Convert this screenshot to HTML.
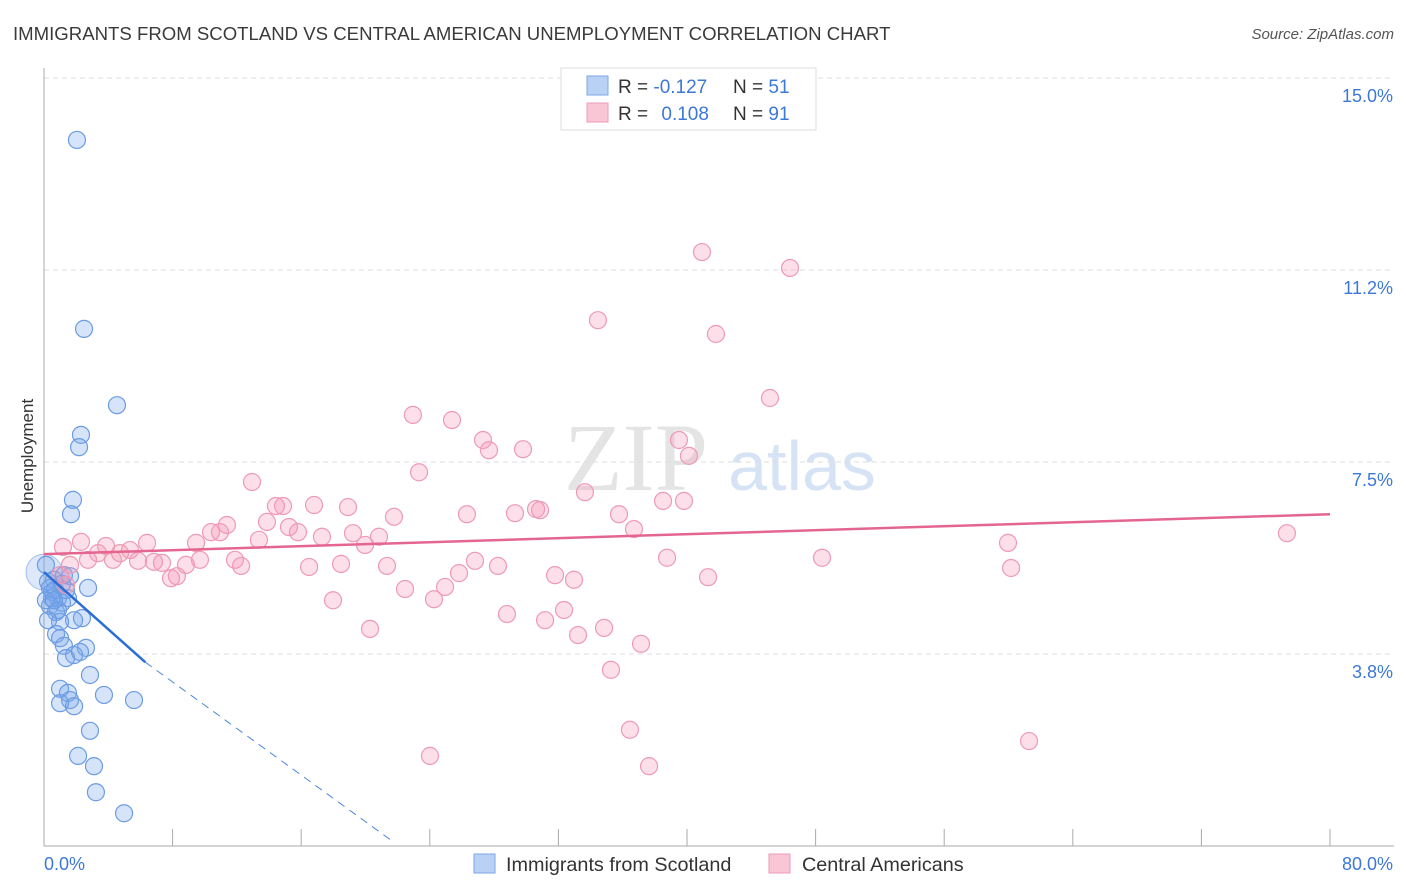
<!DOCTYPE html>
<html><head><meta charset="utf-8"><style>
body{margin:0;background:#fff;font-family:"Liberation Sans",sans-serif;}
svg{display:block}
</style></head><body>
<svg id="chart" width="1406" height="892" xmlns="http://www.w3.org/2000/svg">
<text x="13" y="40" font-size="18.6" fill="#3a3a3a">IMMIGRANTS FROM SCOTLAND VS CENTRAL AMERICAN UNEMPLOYMENT CORRELATION CHART</text>
<text x="1394" y="39" font-size="15" fill="#555" font-style="italic" text-anchor="end">Source: ZipAtlas.com</text>
<text transform="translate(33,456) rotate(-90)" font-size="17" fill="#333" text-anchor="middle">Unemployment</text>
<g>
<text x="636" y="490" font-size="96" fill="#e4e4e4" font-family="Liberation Serif,serif" text-anchor="middle">ZIP</text>
<text x="802" y="490" font-size="70" fill="#d6e3f5" text-anchor="middle">atlas</text>
</g>
<g id="grid"></g>
<g id="axes"></g>
<g id="blue"></g>
<g id="pink"></g>
<g id="trends"></g>
<g>
<rect x="561" y="68" width="255" height="62" fill="#fff" stroke="#ddd"/>
<rect x="587" y="76" width="21" height="19" fill="#b9d1f5" stroke="#7ea7e6"/>
<rect x="587" y="103" width="21" height="19" fill="#f9c6d6" stroke="#ee9ab5"/>
<text x="618" y="93" font-size="19" fill="#333">R = <tspan fill="#3c78d8">-0.127</tspan></text>
<text x="733" y="93" font-size="19" fill="#333">N = <tspan fill="#3c78d8">51</tspan></text>
<text x="618" y="120" font-size="19" fill="#333">R = <tspan fill="#3c78d8" dx="8">0.108</tspan></text>
<text x="733" y="120" font-size="19" fill="#333">N = <tspan fill="#3c78d8">91</tspan></text>
</g>
<g>
<rect x="474" y="854" width="21" height="19" fill="#b9d1f5" stroke="#7ea7e6"/>
<text x="506" y="871" font-size="19.8" fill="#333">Immigrants from Scotland</text>
<rect x="769" y="854" width="21" height="19" fill="#f9c6d6" stroke="#ee9ab5"/>
<text x="802" y="871" font-size="19.8" fill="#333">Central Americans</text>
</g>
</svg>
<script>
const yTicks=[3.75,7.5,11.25,15];
const yTickLabels=["3.8%","7.5%","11.2%","15.0%"];
const xTicks=[0,8,16,24,32,40,48,56,64,72,80];
const xEndLabels=["0.0%","80.0%"];
const blueX=[2.05,2.49,4.54,2.30,2.18,1.80,1.68,2.74,1.24,0.62,0.50,0.87,1.12,1.49,0.37,0.75,2.36,1.87,1.00,0.75,1.00,1.24,2.61,1.87,1.37,2.24,2.86,1.00,1.49,1.62,1.00,1.87,3.73,5.60,2.86,2.12,3.11,3.23,4.98,0.12,0.25,0.50,0.68,0.37,0.12,1.37,0.87,0.25,1.12,0.62,1.62];
const blueY=[13.79,10.10,8.61,8.03,7.79,6.76,6.48,5.04,5.29,5.20,4.96,4.84,4.75,4.84,4.69,4.57,4.45,4.41,4.38,4.14,4.06,3.91,3.87,3.73,3.67,3.79,3.34,3.07,2.99,2.85,2.79,2.73,2.95,2.85,2.25,1.76,1.56,1.05,0.64,5.49,5.16,4.84,5.00,5.04,4.80,5.00,4.61,4.41,5.12,4.80,5.27];
const pinkX=[40.93,46.41,34.46,41.80,45.16,22.95,25.38,27.31,27.68,29.80,39.50,40.12,23.33,12.94,33.65,38.51,39.81,16.80,18.91,14.43,14.87,26.31,29.30,30.61,30.86,35.77,21.77,13.87,11.38,15.24,15.80,36.70,10.39,10.95,17.29,19.22,20.84,13.37,9.46,6.41,3.86,2.30,5.35,4.73,3.36,1.18,4.29,5.85,6.84,7.34,8.83,9.70,11.88,12.26,16.49,18.48,19.97,21.34,26.81,28.24,38.76,48.40,59.97,60.16,77.32,7.90,8.27,25.82,31.79,32.97,41.31,22.46,24.95,24.26,17.98,32.35,28.80,31.17,34.84,33.22,20.28,37.14,35.27,36.45,61.28,24.01,37.64,1.62,1.00,2.74,1.37];
const pinkY=[11.60,11.29,10.27,10.00,8.75,8.42,8.32,7.93,7.73,7.75,7.93,7.62,7.30,7.11,6.91,6.74,6.74,6.66,6.62,6.64,6.64,6.48,6.50,6.58,6.56,6.48,6.43,6.33,6.27,6.23,6.13,6.19,6.13,6.13,6.04,6.11,6.04,5.98,5.92,5.92,5.86,5.94,5.78,5.72,5.72,5.84,5.59,5.57,5.55,5.53,5.49,5.59,5.59,5.47,5.45,5.51,5.88,5.47,5.57,5.47,5.63,5.63,5.92,5.43,6.11,5.23,5.27,5.33,5.29,5.20,5.25,5.02,5.06,4.82,4.80,4.61,4.53,4.41,4.26,4.12,4.24,3.95,3.44,2.27,2.05,1.76,1.56,5.49,5.29,5.59,5.10];
const blueTrendX=[0,6.3,21.65];
const blueTrendY=[5.35,3.59,0.1];
const pinkTrendX=[0,80];
const pinkTrendY=[5.70,6.48];

const NS="http://www.w3.org/2000/svg";
const X=v=>44+v*16.075;
const Y=v=>846-v*51.2;
function mk(tag,attrs,parent){const e=document.createElementNS(NS,tag);for(const k in attrs)e.setAttribute(k,attrs[k]);document.getElementById(parent).appendChild(e);return e;}

yTicks.forEach((t,i)=>{
  const l=mk('line',{x1:44,x2:1394,y1:Y(t),y2:Y(t),stroke:'#ddd','stroke-dasharray':'5,4'},'grid');
  
  
  const tx=mk('text',{x:1393,y:Y(t)+24,'font-size':18,fill:'#3c78d8','text-anchor':'end'},'axes');
  tx.textContent=yTickLabels[i];
  
  
});
const ya=mk('line',{x1:44,x2:44,y1:68,y2:846,stroke:'#aaa'},'axes');


const xa=mk('line',{x1:44,x2:1394,y1:846,y2:846,stroke:'#aaa'},'axes');


xTicks.forEach(t=>{
  const l=mk('line',{x1:X(t),x2:X(t),y1:829,y2:846,stroke:'#aaa'},'axes');
  
  
});
const xl0=mk('text',{x:44,y:870,'font-size':18,fill:'#3c78d8'},'axes');xl0.textContent=xEndLabels[0];


const xl1=mk('text',{x:1393,y:870,'font-size':18,fill:'#3c78d8','text-anchor':'end'},'axes');xl1.textContent=xEndLabels[1];



const bigDot=mk('circle',{cx:X(0),cy:Y(5.35),r:18,fill:'rgba(120,165,235,0.25)',stroke:'rgba(90,140,225,0.5)'},'blue');


blueX.forEach((v,i)=>{
  const c=mk('circle',{cx:X(v),cy:Y(blueY[i]),r:8.5,fill:'rgba(120,165,235,0.3)',stroke:'#6b9be3','stroke-width':1.2},'blue');
  
  
});
pinkX.forEach((v,i)=>{
  const c=mk('circle',{cx:X(v),cy:Y(pinkY[i]),r:8.5,fill:'rgba(244,150,180,0.3)',stroke:'#ee9ab5','stroke-width':1.2},'pink');
  
  
});
const bl=mk('line',{x1:X(blueTrendX[0]),y1:Y(blueTrendY[0]),x2:X(blueTrendX[1]),y2:Y(blueTrendY[1]),stroke:'#2a6fd6','stroke-width':2.5},'trends');


const bd=mk('line',{x1:X(blueTrendX[1]),y1:Y(blueTrendY[1]),x2:X(blueTrendX[2]),y2:Y(blueTrendY[2]),stroke:'#4a86de','stroke-width':1,'stroke-dasharray':'8,6'},'trends');


const pl=mk('line',{x1:X(pinkTrendX[0]),y1:Y(pinkTrendY[0]),x2:X(pinkTrendX[1]),y2:Y(pinkTrendY[1]),stroke:'#e4668e','stroke-width':2.5},'trends');


const topGrid=mk('line',{x1:44,x2:1394,y1:78,y2:78,stroke:'#ddd','stroke-dasharray':'5,4'},'grid');


</script>
</body></html>
